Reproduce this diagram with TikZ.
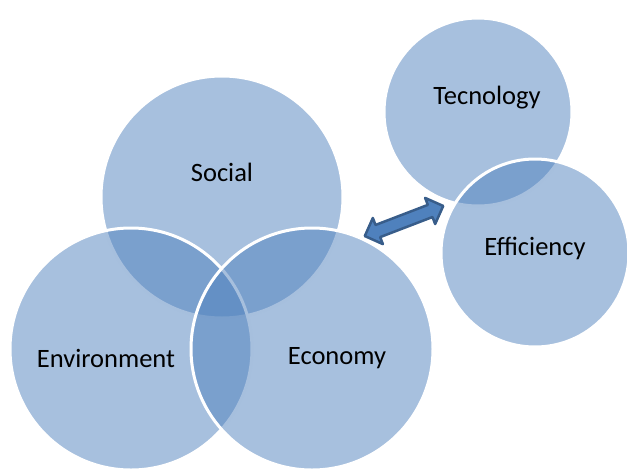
\documentclass[tikz,border=0pt]{standalone}
\usepackage{fontspec}
\setmainfont{Carlito}
\definecolor{acc}{HTML}{4F81BD}
\definecolor{accdark}{HTML}{385D8A}
\tikzset{
  bubble/.style={circle, fill=acc, fill opacity=0.5, draw=white, draw opacity=1, line width=3pt, minimum size=#1, inner sep=0pt},
  lbl/.style={font=\fontsize{26.5}{30}\selectfont, text=black, inner sep=0pt},
  dblarrow/.style={draw=accdark, fill=acc, line width=2.5pt, line join=round}
}
\begin{document}
\begin{tikzpicture}[x=1pt,y=-1pt]
\useasboundingbox (0,0) rectangle (627,472);
\node[bubble=242pt] (social) at (222,197) {};
\node[bubble=242pt] (environment) at (131,349) {};
\node[bubble=242pt] (economy) at (312,349) {};
\node[bubble=188pt] (tecnology) at (478,112) {};
\node[bubble=188pt] (efficiency) at (535,253) {};
\node[lbl] (tsocial) at (222,172) {Social};
\node[lbl] (tenv) at (106,358) {Environment};
\node[lbl] (teco) at (337,358) {Economy};
\node[lbl] (ttec) at (487,98) {Tecnology};
\node[lbl] (teff) at (535,248) {Efficiency};
\begin{scope}[shift={(404,221)}, rotate=21]
\draw[dblarrow] (-42,0) -- (-28,-14) -- (-28,-6.5) -- (28,-6.5) -- (28,-14) -- (42,0) -- (28,14) -- (28,6.5) -- (-28,6.5) -- (-28,14) -- cycle;
\end{scope}
\end{tikzpicture}
\end{document}
